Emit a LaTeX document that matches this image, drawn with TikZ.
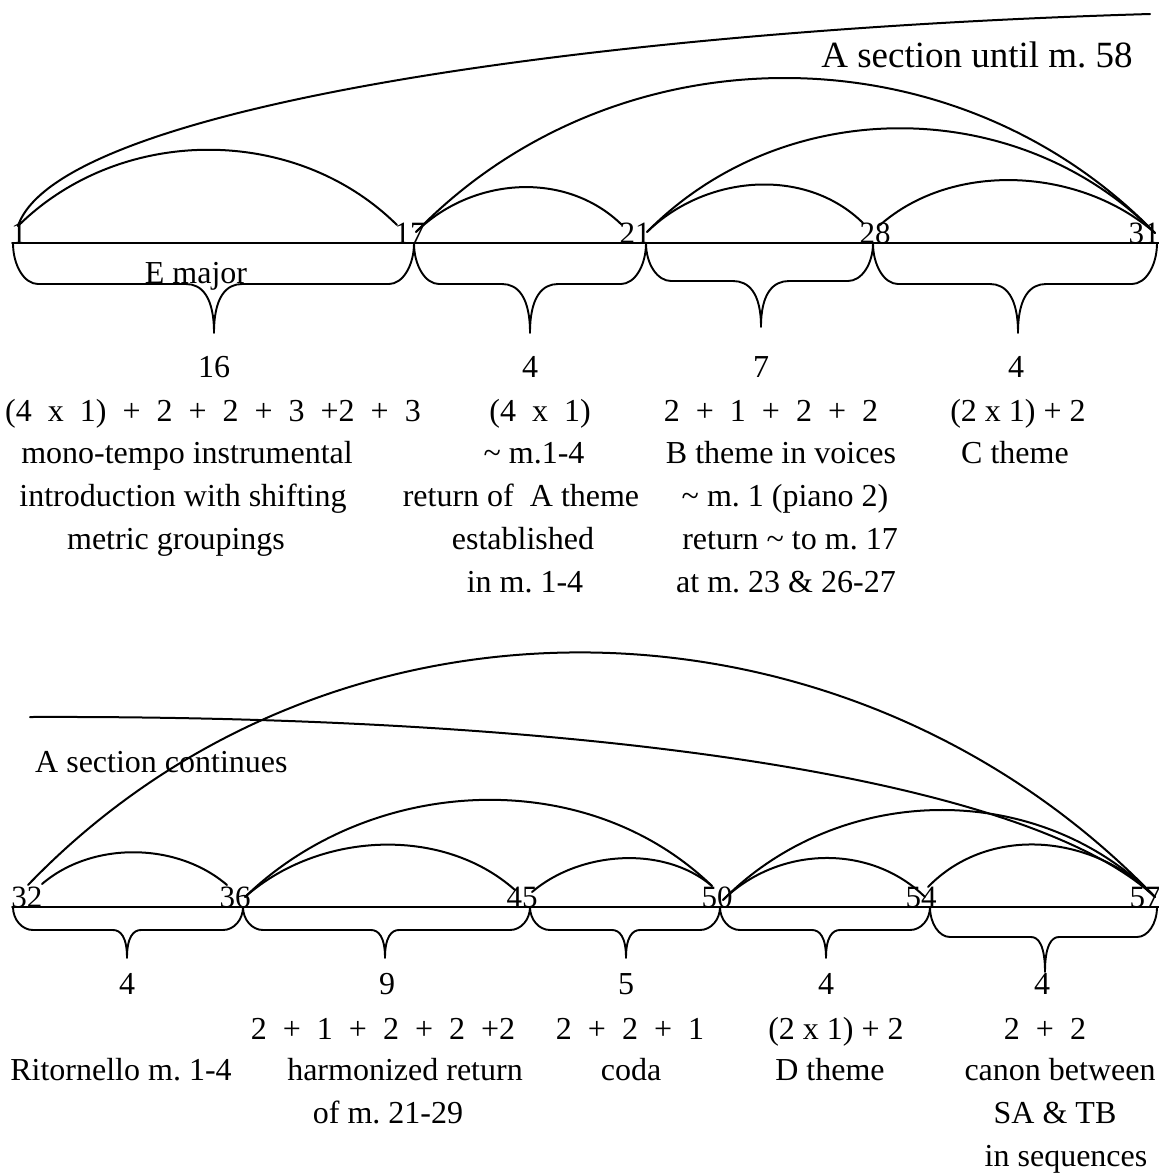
\documentclass[tikz,border=0pt]{standalone}
\usepackage{fontspec}
\setmainfont{Liberation Serif}
\newcommand{\mgap}{\hspace{16pt}}
\newcommand{\mybrace}[8]{%
 \draw[bracel] (#1,#4) .. controls (#1,{#4+0.55*(#5-#4)}) and ({#1+0.45*#7},#5) .. ({#1+#7},#5)
  -- ({#3-#8},#5) .. controls ({#3-0.45*#8},#5) and (#3,{#5+0.25*(#6-#5)}) .. (#3,#6)
  .. controls (#3,{#5+0.25*(#6-#5)}) and ({#3+0.45*#8},#5) .. ({#3+#8},#5)
  -- ({#2-#7},#5) .. controls ({#2-0.45*#7},#5) and (#2,{#4+0.55*(#5-#4)}) .. (#2,#4);}
\begin{document}
\frenchspacing
\begin{tikzpicture}[x=1pt,y=-1pt,
  line join=round, line cap=round,
  arcline/.style={line width=2pt},
  axisline/.style={line width=1.8pt},
  bracel/.style={line width=1.9pt},
  txt/.style={anchor=base,inner sep=0pt,font=\fontsize{32}{38}\selectfont},
  num/.style={anchor=base,inner sep=0pt,font=\fontsize{31}{36}\selectfont}]
\useasboundingbox (0,0) rectangle (1159,1176);

% ---------- top system ----------
\coordinate (axAl) at (12,243);
\coordinate (axAr) at (1159,243);
\draw[axisline] (axAl) -- (axAr);

\coordinate (a1) at (18,226);
\coordinate (a17l) at (397,225);
\coordinate (a17r) at (416,232);
\coordinate (a21l) at (622,225);
\coordinate (a21r) at (647,232);
\coordinate (a28l) at (863,223);
\coordinate (a28r) at (880,225);
\coordinate (a31) at (1155,233);
\coordinate (topend) at (1150,14);

\draw[arcline] (a1) .. controls +(40,-120) and +(-550,16) .. (topend);
\draw[arcline] (a1) .. controls +(102,-101) and +(-102,-101) .. (a17l);
\draw[arcline] (a17r) .. controls +(56,-55) and +(-56,-55) .. (a21l);
\draw[arcline] (a17r) .. controls +(200,-206) and +(-200,-206) .. (a31);
\draw[arcline] (a21r) .. controls +(58,-57) and +(-58,-57) .. (a28l);
\draw[arcline] (a21r) .. controls +(137,-139) and +(-137,-139) .. (a31);
\draw[arcline] (a28r) .. controls +(74,-65) and +(-74,-65) .. (a31);

\mybrace{13}{414}{214}{243}{284}{333}{25}{28}
\mybrace{414}{646}{530}{243}{284}{333}{25}{28}
\mybrace{646}{873}{761}{243}{281}{327}{25}{28}
\mybrace{873}{1157}{1018}{243}{284}{333}{25}{28}

\node[num] (m1) at (19,243) {1};
\node[num] (m17) at (410,243) {17};
\node[num] (m21) at (635,243) {21};
\node[num] (m28) at (875,243) {28};
\node[num] (m31) at (1144,243) {31};

\node[txt,font=\fontsize{37}{42}\selectfont] (secA) at (977,67) {A section until m. 58};
\node[txt] (emaj) at (196,283) {E major};

\node[txt] (c1a) at (214,377) {16};
\node[txt] (c2a) at (530,377) {4};
\node[txt] (c3a) at (761,377) {7};
\node[txt] (c4a) at (1016,377) {4};

\node[txt] (c1b) at (213,421) {(4\mgap x\mgap 1)\mgap+\mgap 2\mgap+\mgap 2\mgap+\mgap 3\mgap+2\mgap+\mgap 3};
\node[txt] (c2b) at (540,421) {(4\mgap x\mgap 1)};
\node[txt] (c3b) at (771,421) {2\mgap+\mgap 1\mgap+\mgap 2\mgap+\mgap 2};
\node[txt] (c4b) at (1018,421) {(2 x 1) + 2};

\node[txt] (c1c) at (187,463) {mono-tempo instrumental};
\node[txt] (c2c) at (534,463) {\textasciitilde{} m.1-4};
\node[txt] (c3c) at (781,463) {B theme in voices};
\node[txt] (c4c) at (1015,463) {C theme};

\node[txt] (c1d) at (183,506) {introduction with shifting};
\node[txt] (c2d) at (521,506) {return of\ \ A theme};
\node[txt] (c3d) at (785,506) {\textasciitilde{} m. 1 (piano 2)};

\node[txt] (c1e) at (176,549) {metric groupings};
\node[txt] (c2e) at (523,549) {established};
\node[txt] (c3e) at (790,549) {return \textasciitilde{} to m. 17};

\node[txt] (c2f) at (525,592) {in m. 1-4};
\node[txt] (c3f) at (786,592) {at m. 23 \& 26-27};

% ---------- bottom system ----------
\coordinate (axBl) at (12,907);
\coordinate (axBr) at (1159,907);
\draw[axisline] (axBl) -- (axBr);

\coordinate (b32o) at (28,885);
\coordinate (b32i) at (42,884);
\coordinate (b36l) at (227,885);
\coordinate (b36r) at (245,897);
\coordinate (b45l) at (515,890);
\coordinate (b45r) at (532,892);
\coordinate (b50l) at (712,886);
\coordinate (b50r) at (723,900);
\coordinate (b54l) at (925,897);
\coordinate (b54r) at (928,887);
\coordinate (b57) at (1155,897);
\coordinate (secstart) at (30,717);

\draw[arcline] (secstart) .. controls +(570,-2) and +(-125,-117) .. (b57);
\draw[arcline] (b32o) .. controls +(306,-318) and +(-306,-318) .. (b57);
\draw[arcline] (b32i) .. controls +(50,-43) and +(-50,-43) .. (b36l);
\draw[arcline] (b36r) .. controls +(73,-65) and +(-73,-65) .. (b45l);
\draw[arcline] (b36r) .. controls +(126,-122) and +(-126,-122) .. (b50l);
\draw[arcline] (b45r) .. controls +(48,-41) and +(-48,-41) .. (b50l);
\draw[arcline] (b50r) .. controls +(55,-54) and +(-55,-54) .. (b54l);
\draw[arcline] (b50r) .. controls +(117,-118) and +(-117,-118) .. (b57);
\draw[arcline] (b54r) .. controls +(61,-63) and +(-61,-63) .. (b57);

\mybrace{13}{243}{127}{907}{930}{958}{20}{14}
\mybrace{243}{530}{385}{907}{930}{958}{20}{14}
\mybrace{530}{720}{626}{907}{930}{958}{20}{14}
\mybrace{720}{930}{826}{907}{930}{958}{20}{14}
\mybrace{930}{1157}{1045}{907}{937}{972}{20}{14}

\node[num] (m32) at (27,907) {32};
\node[num] (m36) at (235,907) {36};
\node[num] (m45) at (522,907) {45};
\node[num] (m50) at (717,907) {50};
\node[num] (m54) at (921,907) {54};
\node[num] (m57) at (1145,907) {57};

\node[txt,anchor=base west] (secB) at (35,772) {A section continues};

\node[txt] (d1a) at (127,994) {4};
\node[txt] (d2a) at (387,994) {9};
\node[txt] (d3a) at (626,994) {5};
\node[txt] (d4a) at (826,994) {4};
\node[txt] (d5a) at (1042,994) {4};

\node[txt] (d2b) at (383,1039) {2\mgap+\mgap 1\mgap+\mgap 2\mgap+\mgap 2\mgap+2};
\node[txt] (d3b) at (630,1039) {2\mgap+\mgap 2\mgap+\mgap 1};
\node[txt] (d4b) at (836,1039) {(2 x 1) + 2};
\node[txt] (d5b) at (1045,1039) {2\mgap+\mgap 2};

\node[txt] (d1c) at (121,1080) {Ritornello m. 1-4};
\node[txt] (d2c) at (405,1080) {harmonized return};
\node[txt] (d3c) at (631,1080) {coda};
\node[txt] (d4c) at (830,1080) {D theme};
\node[txt] (d5c) at (1060,1080) {canon between};

\node[txt] (d2d) at (388,1123) {of m. 21-29};
\node[txt] (d5d) at (1055,1123) {SA \& TB};
\node[txt] (d5e) at (1066,1166) {in sequences};
\end{tikzpicture}
\end{document}
